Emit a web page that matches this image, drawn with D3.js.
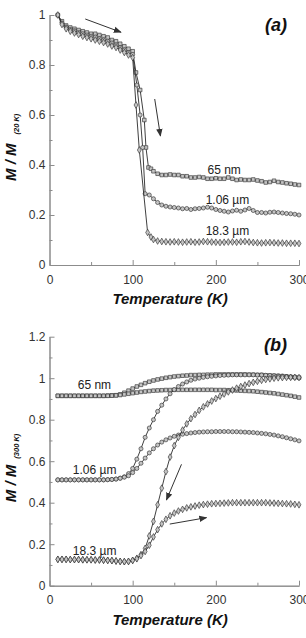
<!DOCTYPE html>
<html>
<head>
<meta charset="utf-8">
<script src="https://cdn.jsdelivr.net/npm/d3@7"></script>
<style>
    body { margin: 0; background: #fff; }
    .panel { width: 306px; height: 319px; overflow: hidden; }
    text { font-family: "Liberation Sans", Arial, sans-serif; }
</style>
</head>
<body>
<div id="panel-a" class="panel"></div>
<div id="panel-b" class="panel"></div>
<script>

// ---------- axes ----------
const xTicks = [0, 100, 200, 300];
const xMinorTicks = [50, 150, 250];
const yTicksA = [0, 0.2, 0.4, 0.6, 0.8, 1];
const yMinorTicksA = [0.1, 0.3, 0.5, 0.7, 0.9];
const yTicksB = [0, 0.2, 0.4, 0.6, 0.8, 1, 1.2];
const yMinorTicksB = [0.1, 0.3, 0.5, 0.7, 0.9, 1.1];

// ---------- panel (a): M / M(20 K), [T (K), M] ----------
const nm65A = [[10,1.0],[15,0.975],[20,0.958],[25,0.95],[30,0.945],[35,0.94],[40,0.935],[45,0.93],[50,0.925],[55,0.925],
    [60,0.92],[65,0.915],[70,0.91],[75,0.9],[80,0.895],[85,0.885],[90,0.875],[95,0.865],[100,0.855],[104,0.77],
    [109,0.70],[114,0.58],[116,0.47],[119,0.39],[122,0.385],[125,0.375],[130,0.365],[135,0.36],[140,0.36],[145,0.362],
    [150,0.36],[155,0.36],[160,0.355],[165,0.355],[170,0.35],[175,0.35],[180,0.352],[185,0.35],[190,0.345],[195,0.345],
    [200,0.347],[205,0.345],[210,0.345],[215,0.35],[220,0.345],[225,0.34],[230,0.342],[235,0.34],[240,0.34],[245,0.342],
    [250,0.338],[255,0.335],[260,0.33],[265,0.332],[270,0.337],[275,0.332],[280,0.33],[285,0.327],[290,0.325],[295,0.322],[300,0.32]];

const um106A = [[10,1.0],[15,0.968],[20,0.952],[25,0.942],[30,0.937],[35,0.93],[40,0.925],[45,0.92],[50,0.915],[55,0.912],
    [60,0.905],[65,0.9],[70,0.895],[75,0.888],[80,0.88],[85,0.87],[90,0.86],[95,0.85],[100,0.842],[105,0.72],
    [109,0.6],[112,0.47],[115,0.285],[120,0.28],[125,0.265],[130,0.25],[135,0.24],[140,0.235],[145,0.232],[150,0.23],
    [155,0.228],[160,0.225],[165,0.226],[170,0.222],[175,0.225],[180,0.226],[185,0.228],[190,0.231],[195,0.228],[200,0.222],
    [205,0.218],[210,0.215],[215,0.212],[220,0.216],[225,0.219],[230,0.215],[235,0.22],[240,0.226],[245,0.218],[250,0.21],
    [255,0.21],[260,0.208],[265,0.211],[270,0.212],[275,0.21],[280,0.208],[285,0.206],[290,0.205],[295,0.203],[300,0.2]];

const um183A = [[10,1.0],[15,0.962],[20,0.945],[25,0.935],[30,0.928],[35,0.922],[40,0.915],[45,0.91],[50,0.905],[55,0.9],
    [60,0.895],[65,0.89],[70,0.884],[75,0.876],[80,0.87],[85,0.86],[90,0.85],[95,0.84],[100,0.83],[104,0.64],
    [108,0.46],[118,0.13],[122,0.112],[125,0.102],[130,0.096],[135,0.094],[140,0.093],[145,0.092],[150,0.093],[155,0.092],
    [160,0.091],[165,0.092],[170,0.093],[175,0.091],[180,0.092],[185,0.094],[190,0.093],[195,0.092],[200,0.091],[205,0.09],
    [210,0.091],[215,0.092],[220,0.092],[225,0.091],[230,0.093],[235,0.094],[240,0.092],[245,0.09],[250,0.089],[255,0.088],
    [260,0.089],[265,0.09],[270,0.089],[275,0.088],[280,0.088],[285,0.087],[290,0.087],[295,0.087],[300,0.086]];

// ---------- panel (b): M / M(300 K), shared temperatures ----------
const tempsB = [10,15,20,25,30,35,40,45,50,55,
    60,65,70,75,80,85,90,95,100,105,
    110,115,120,125,130,135,140,145,150,155,
    160,165,170,175,180,185,190,195,200,205,
    210,215,220,225,230,235,240,245,250,255,
    260,265,270,275,280,285,290,295,300];

const nm65Up = [0.915,0.915,0.915,0.915,0.915,0.915,0.915,0.915,0.915,0.915,
    0.915,0.915,0.916,0.917,0.918,0.922,0.93,0.94,0.95,0.96,
    0.968,0.976,0.983,0.989,0.994,0.998,1.002,1.005,1.008,1.01,
    1.012,1.013,1.015,1.015,1.016,1.016,1.017,1.017,1.018,1.018,
    1.018,1.018,1.018,1.018,1.018,1.018,1.017,1.017,1.016,1.016,
    1.014,1.013,1.012,1.011,1.01,1.008,1.006,1.005,1.003];

const nm65Down = [0.915,0.915,0.915,0.915,0.915,0.915,0.915,0.915,0.915,0.915,
    0.915,0.915,0.915,0.916,0.917,0.919,0.922,0.925,0.928,0.931,
    0.934,0.936,0.938,0.94,0.941,0.942,0.943,0.943,0.944,0.944,
    0.944,0.944,0.944,0.944,0.944,0.944,0.944,0.944,0.943,0.943,
    0.943,0.942,0.942,0.941,0.94,0.939,0.938,0.937,0.935,0.933,
    0.931,0.929,0.927,0.924,0.921,0.918,0.915,0.911,0.907];

const um106Up = [0.51,0.51,0.51,0.51,0.51,0.51,0.51,0.51,0.51,0.51,
    0.51,0.51,0.511,0.512,0.514,0.518,0.525,0.54,0.565,0.61,
    0.66,0.715,0.76,0.80,0.84,0.87,0.90,0.925,0.945,0.96,
    0.972,0.982,0.99,0.996,1.0,1.004,1.007,1.009,1.011,1.013,
    1.014,1.015,1.016,1.016,1.016,1.016,1.016,1.016,1.015,1.015,
    1.014,1.013,1.012,1.011,1.01,1.008,1.006,1.005,1.003];

const um106Down = [0.51,0.51,0.51,0.51,0.51,0.51,0.51,0.51,0.51,0.51,
    0.51,0.51,0.511,0.512,0.514,0.518,0.523,0.53,0.545,0.565,
    0.59,0.615,0.64,0.66,0.678,0.692,0.703,0.712,0.72,0.726,
    0.73,0.733,0.736,0.738,0.74,0.741,0.742,0.742,0.743,0.743,
    0.743,0.743,0.742,0.742,0.741,0.74,0.739,0.738,0.736,0.734,
    0.732,0.729,0.726,0.722,0.718,0.713,0.708,0.703,0.698];

const um183Up = [0.127,0.127,0.127,0.126,0.126,0.126,0.125,0.125,0.125,0.124,
    0.124,0.123,0.122,0.121,0.119,0.117,0.116,0.117,0.122,0.132,
    0.15,0.18,0.24,0.31,0.39,0.47,0.55,0.62,0.675,0.715,
    0.75,0.78,0.805,0.825,0.845,0.862,0.876,0.89,0.902,0.913,
    0.924,0.934,0.943,0.952,0.96,0.967,0.974,0.98,0.985,0.99,
    0.994,0.997,1.0,1.002,1.003,1.004,1.004,1.004,1.003];

const um183Down = [0.127,0.127,0.127,0.126,0.126,0.126,0.125,0.125,0.125,0.124,
    0.124,0.123,0.122,0.121,0.119,0.117,0.116,0.117,0.122,0.13,
    0.145,0.165,0.195,0.235,0.27,0.298,0.32,0.337,0.35,0.36,
    0.368,0.375,0.38,0.384,0.388,0.391,0.393,0.395,0.396,0.397,
    0.398,0.399,0.4,0.4,0.4,0.4,0.4,0.4,0.4,0.4,
    0.4,0.399,0.398,0.397,0.396,0.395,0.394,0.392,0.39];

// annotations, in data units
const labelsA = [
    {text: "65 nm", t: 210, m: 0.364},
    {text: "1.06 \u00b5m", t: 214, m: 0.245},
    {text: "18.3 \u00b5m", t: 214, m: 0.12}
];
const labelsB = [
    {text: "65 nm", t: 34, m: 0.947},
    {text: "1.06 \u00b5m", t: 28, m: 0.536},
    {text: "18.3 \u00b5m", t: 28, m: 0.148}
];
const arrowsA = [
    {from: [43, 0.984], to: [86, 0.931]},
    {from: [126.5, 0.664], to: [133.4, 0.516]}
];
const arrowsB = [
    {from: [158.7, 0.585], to: [140.6, 0.413]},
    {from: [144.6, 0.297], to: [188.8, 0.328]}
];


/* * * * * * * * * * * * * *
*     class MagnetPanel     *
* * * * * * * * * * * * * */

class MagnetPanel {

    constructor(parentElement, config) {
        this.parentElement = parentElement;
        this.config = config;

        this.initVis();
    }

    initVis() {
        let vis = this;
        let cfg = vis.config;

        vis.margin = {top: cfg.top, right: 7, bottom: 0, left: 49.5};
        vis.width = 306 - vis.margin.left - vis.margin.right;
        vis.height = cfg.plotHeight;

        vis.svg = d3.select("#" + vis.parentElement).append("svg")
            .attr("width", 306)
            .attr("height", 319)
            .append("g")
            .attr("transform", `translate (${vis.margin.left}, ${vis.margin.top})`);

        vis.svg.append("defs").append("marker")
            .attr("id", "head-" + vis.parentElement)
            .attr("viewBox", "0 0 10 10")
            .attr("refX", 9).attr("refY", 5)
            .attr("markerWidth", 8).attr("markerHeight", 8)
            .attr("markerUnits", "userSpaceOnUse")
            .attr("orient", "auto")
            .append("path")
            .attr("d", "M0,1 L10,5 L0,9 z")
            .attr("fill", "#333");

        vis.x = d3.scaleLinear().domain([0, 300]).range([0, vis.width]);
        vis.y = d3.scaleLinear().domain([0, cfg.yMax]).range([vis.height, 0]);

        // axes, ticks pointing inwards
        vis.drawAxis(d3.axisBottom(vis.x).tickValues(xMinorTicks).tickSize(-3).tickSizeOuter(0).tickFormat(""), true);
        vis.drawAxis(d3.axisLeft(vis.y).tickValues(cfg.yMinor).tickSize(-3).tickSizeOuter(0).tickFormat(""), false);
        vis.drawAxis(d3.axisBottom(vis.x).tickValues(xTicks).tickSize(-5).tickSizeOuter(0)
            .tickPadding(10).tickFormat(d3.format("d")), true);
        vis.drawAxis(d3.axisLeft(vis.y).tickValues(cfg.yTicks).tickSize(-5).tickSizeOuter(0)
            .tickPadding(4).tickFormat(d3.format("~g")), false);

        // curves
        vis.line = d3.line().x(d => vis.x(d[0])).y(d => vis.y(d[1]));

        cfg.series.forEach(s => {
            vis.svg.append("path")
                .datum(s.points)
                .attr("fill", "none")
                .attr("stroke", "#2a2a2a")
                .attr("stroke-width", 0.9)
                .attr("d", vis.line);

            vis.svg.append("g").selectAll("path")
                .data(s.points)
                .enter().append("path")
                .attr("transform", d => `translate(${vis.x(d[0])},${vis.y(d[1])})`)
                .attr("d", d3.symbol().type(s.symbol).size(13))
                .attr("fill", "#c4c4c4")
                .attr("stroke", "#333")
                .attr("stroke-width", 0.65);
        });

        // sample labels
        vis.svg.selectAll(".sample-label")
            .data(cfg.labels)
            .enter().append("text")
            .attr("class", "sample-label")
            .attr("x", d => vis.x(d.t))
            .attr("y", d => vis.y(d.m))
            .attr("text-anchor", cfg.labelAnchor)
            .attr("font-size", 12)
            .attr("fill", "#222")
            .text(d => d.text);

        // arrows
        vis.svg.selectAll(".arrow")
            .data(cfg.arrows)
            .enter().append("line")
            .attr("class", "arrow")
            .attr("x1", d => vis.x(d.from[0]))
            .attr("y1", d => vis.y(d.from[1]))
            .attr("x2", d => vis.x(d.to[0]))
            .attr("y2", d => vis.y(d.to[1]))
            .attr("stroke", "#333")
            .attr("stroke-width", 1)
            .attr("marker-end", `url(#head-${vis.parentElement})`);

        // panel letter
        vis.svg.append("text")
            .attr("x", 287 - vis.margin.left)
            .attr("y", cfg.letterY)
            .attr("text-anchor", "end")
            .attr("font-size", 18)
            .attr("font-weight", "bold")
            .attr("font-style", "italic")
            .attr("fill", "#111")
            .text(cfg.letter);

        // x title
        vis.svg.append("text")
            .attr("x", vis.x(145))
            .attr("y", vis.height + 39)
            .attr("text-anchor", "middle")
            .attr("font-size", 15)
            .attr("font-weight", "bold")
            .attr("font-style", "italic")
            .attr("fill", "#111")
            .text("Temperature (K)");

        // y title with subscript
        let yTitle = vis.svg.append("text")
            .attr("transform", `translate(${16 - vis.margin.left}, ${vis.height / 2 + 41}) rotate(-90)`)
            .attr("font-weight", "bold")
            .attr("font-style", "italic")
            .attr("fill", "#111");
        yTitle.append("tspan").attr("font-size", 15).text("M / M");
        yTitle.append("tspan").attr("font-size", 7.5).attr("dx", cfg.subDx).attr("dy", 3).text(cfg.sub);
    }

    drawAxis(axis, bottom) {
        let vis = this;
        let g = vis.svg.append("g");
        if (bottom) g.attr("transform", `translate(0, ${vis.height})`);
        g.call(axis);
        g.select(".domain").attr("stroke", "#8c8c8c");
        g.selectAll(".tick line").attr("stroke", "#8c8c8c");
        g.selectAll(".tick text")
            .attr("font-family", "'Liberation Sans', Arial, sans-serif")
            .attr("font-size", 12)
            .attr("fill", "#333");
    }
}


new MagnetPanel("panel-a", {
    top: 15, plotHeight: 250, yMax: 1,
    yTicks: yTicksA, yMinor: yMinorTicksA,
    series: [
        {points: nm65A, symbol: d3.symbolSquare},
        {points: um106A, symbol: d3.symbolCircle},
        {points: um183A, symbol: d3.symbolDiamond}
    ],
    labels: labelsA, labelAnchor: "middle",
    arrows: arrowsA,
    letter: "(a)", letterY: 16,
    sub: "(20 K)", subDx: 9
});

new MagnetPanel("panel-b", {
    top: 17.7, plotHeight: 249, yMax: 1.2,
    yTicks: yTicksB, yMinor: yMinorTicksB,
    series: [
        {points: d3.zip(tempsB, nm65Up), symbol: d3.symbolSquare},
        {points: d3.zip(tempsB, nm65Down), symbol: d3.symbolSquare},
        {points: d3.zip(tempsB, um106Up), symbol: d3.symbolCircle},
        {points: d3.zip(tempsB, um106Down), symbol: d3.symbolCircle},
        {points: d3.zip(tempsB, um183Up), symbol: d3.symbolDiamond},
        {points: d3.zip(tempsB, um183Down), symbol: d3.symbolDiamond}
    ],
    labels: labelsB, labelAnchor: "start",
    arrows: arrowsB,
    letter: "(b)", letterY: 14.5,
    sub: "(300 K)", subDx: 6
});

</script>
</body>
</html>
